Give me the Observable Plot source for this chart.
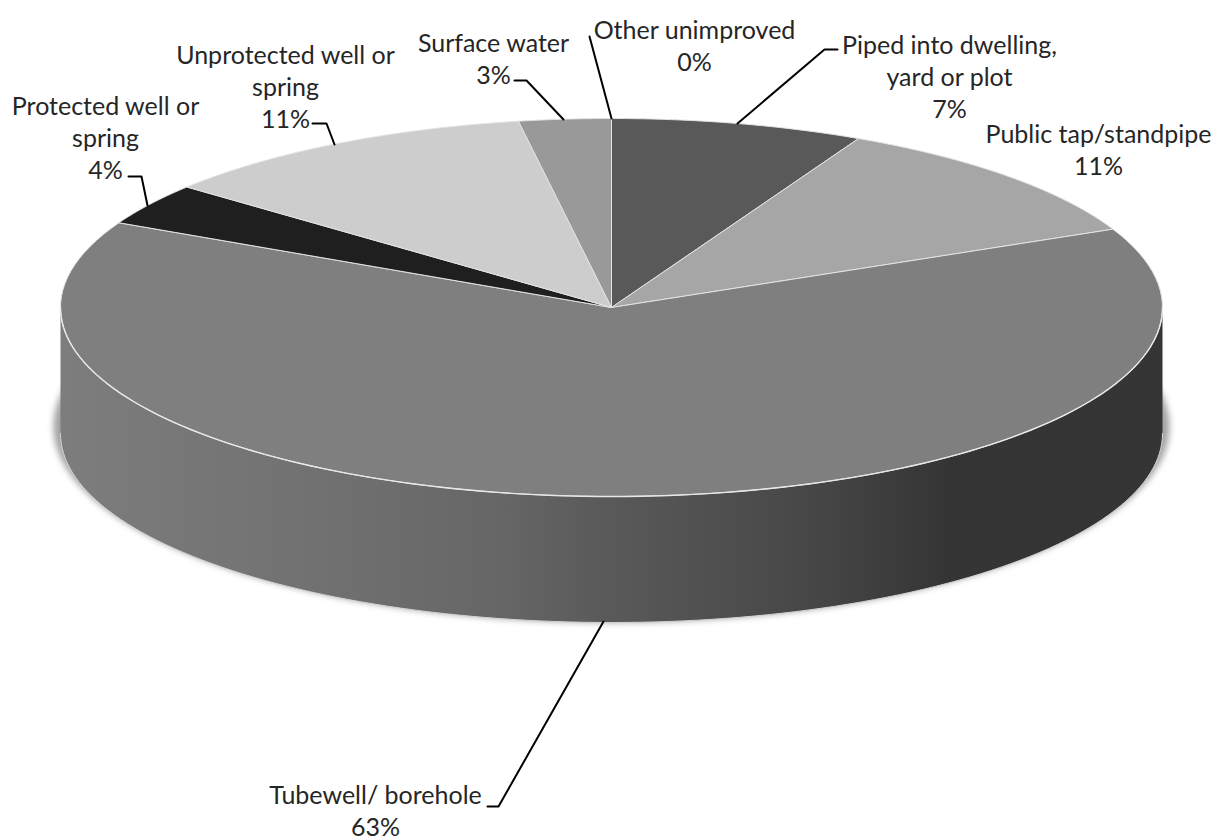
<!DOCTYPE html>
<html><head><meta charset="utf-8">
<script src="https://cdn.jsdelivr.net/npm/d3@7"></script>
<script src="https://cdn.jsdelivr.net/npm/@observablehq/plot@0.6"></script>
<style>
html,body{margin:0;padding:0;background:#fff}
svg{display:block}
.shadow{filter:blur(3px)}
</style></head><body><div id="chart"></div>
<script>
const categories = ["Piped into dwelling, yard or plot","Public tap/standpipe","Tubewell/ borehole","Protected well or spring","Unprotected well or spring","Surface water","Other unimproved"];
const shares = [7.4, 10.8, 64.2, 3.6, 11.3, 2.7, 0.0];
const labelTexts = ["Piped into dwelling,\nyard or plot\n7%","Public tap/standpipe\n11%","Tubewell/ borehole\n63%","Protected well or\nspring\n4%","Unprotected well or\nspring\n11%","Surface water\n3%","Other unimproved\n0%"];
const greys = ["#595959","#a6a6a6","#7f7f7f","#1f1f1f","#cdcdcd","#999999","#737373"];

const labelX = [949,1098,375,105,285,493,694];
const labelY = [75,148,809,136,85,57,44];
const leaders = [
  [[837,49],[824,49],[737,123]],
  [],
  [[487,806],[498,806],[603,621]],
  [[128,176],[141,176],[147,205]],
  [[312,123],[326,123],[334,144]],
  [[514,80],[526,80],[563,119]],
  [[589,36],[611,118]]
];

const W = 1212, H = 839, cx = 611, cy = 307, rx = 551, ry = 189, depth = 126;
const pt = (t, dy = 0) => ({x: cx + rx * Math.sin(t), y: cy + dy - ry * Math.cos(t)});
const arc = (a, b, dy = 0) => d3.range(0, 121).map(i => pt(a + (b - a) * i / 120, dy));

let acc = 0;
const slices = [];
categories.forEach((name, i) => {
  const a = acc / 100 * 2 * Math.PI; acc += shares[i];
  const b = acc / 100 * 2 * Math.PI;
  if (shares[i] > 0) {
    slices.push(...[{x: cx, y: cy}, ...arc(a, b), {x: cx, y: cy}].map(p => ({...p, name})));
  }
});
const side = [...arc(Math.PI / 2, 3 * Math.PI / 2), ...arc(3 * Math.PI / 2, Math.PI / 2, depth)];
side.push(side[0]);
const shadow = arc(0, 2 * Math.PI, depth).map(p => ({x: cx + (p.x - cx) * 1.013, y: cy + depth - 7 + (p.y - cy - depth) * 1.037}));
const frontEdge = arc(Math.PI / 2, 3 * Math.PI / 2, depth);
const topFront = arc(Math.PI / 2, 3 * Math.PI / 2);
const leaderRows = leaders.flatMap((l, i) => l.map(([x, y]) => ({x, y, name: categories[i]})));
const labelRows = categories.map((name, i) => ({text: labelTexts[i], x: labelX[i], y: labelY[i]}));

const gradient = () => {
  const svgNS = "http://www.w3.org/2000/svg";
  const defs = document.createElementNS(svgNS, "defs");
  const g = d3.select(defs).append("linearGradient").attr("id", "sideGrad")
    .attr("gradientUnits", "userSpaceOnUse").attr("x1", 60).attr("x2", 1162).attr("y1", 0).attr("y2", 0);
  [[0,"#7d7d7d"],[0.25,"#707070"],[0.40,"#666666"],[0.49,"#5a5a5a"],[0.67,"#484848"],[0.81,"#343434"],[1,"#353535"]]
    .forEach(([o, c]) => g.append("stop").attr("offset", o).attr("stop-color", c));
  return defs;
};

const chart = Plot.plot({
  width: W, height: H, margin: 0,
  style: {background: "#fff", color: "#262626"},
  x: {domain: [0, W], range: [0, W], axis: null},
  y: {domain: [0, H], range: [0, H], axis: null},
  color: {domain: categories, range: greys},
  marks: [
    gradient,
    Plot.line(shadow, {x: "x", y: "y", fill: "#a3a3a3", stroke: "none", className: "shadow"}),
    Plot.line(side, {x: "x", y: "y", fill: "url(#sideGrad)", stroke: "none"}),
    Plot.line(frontEdge, {x: "x", y: "y", stroke: "#d4d4d4", strokeWidth: 1}),
    Plot.line(slices, {x: "x", y: "y", z: "name", fill: "name", stroke: "#e4e4e4", strokeWidth: 1}),
    Plot.line(topFront, {x: "x", y: "y", stroke: "#e8e8e8", strokeWidth: 1.4}),
    Plot.line(leaderRows, {x: "x", y: "y", z: "name", stroke: "#000", strokeWidth: 2, curve: "linear"}),
    Plot.text(labelRows, {x: "x", y: "y", text: "text", textAnchor: "middle", lineAnchor: "middle", lineHeight: 1.28, fontSize: 25, fontFamily: "Lato, 'Open Sans', sans-serif", fill: "#262626"})
  ]
});
document.getElementById("chart").append(chart);
</script></body></html>
